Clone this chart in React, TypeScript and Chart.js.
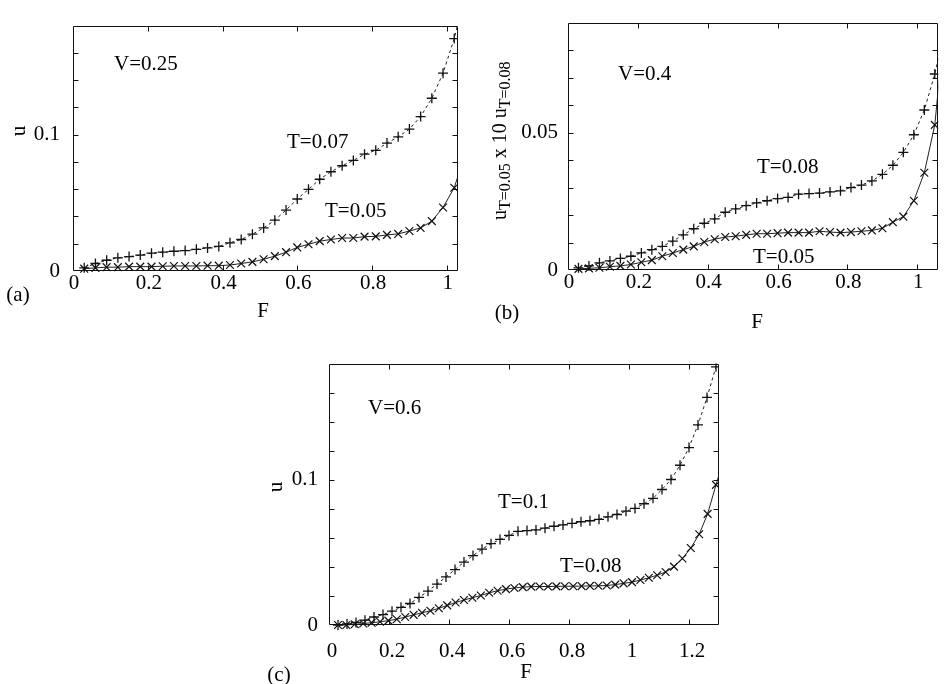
import React, { useEffect, useRef } from "react";
import { Chart, registerables } from "chart.js";

Chart.register(...registerables);

const SERIF = "'Liberation Serif', 'Times New Roman', Times, serif";

// ---------- Panel (a): V = 0.25 ----------
const fA = [0.03, 0.06, 0.09, 0.12, 0.15, 0.18, 0.21, 0.24, 0.27, 0.30, 0.33, 0.36, 0.39, 0.42, 0.45, 0.48, 0.51, 0.54, 0.57, 0.60, 0.63, 0.66, 0.69, 0.72, 0.75, 0.78, 0.81, 0.84, 0.87, 0.90, 0.93, 0.96, 0.99, 1.02, 1.05];
const uA_T007 = [0.0023, 0.0055, 0.0079, 0.0097, 0.0106, 0.0117, 0.0131, 0.0138, 0.0145, 0.0150, 0.0159, 0.0169, 0.0180, 0.0207, 0.0231, 0.0270, 0.0316, 0.0373, 0.0447, 0.0528, 0.0599, 0.0673, 0.0728, 0.0772, 0.0811, 0.0857, 0.0885, 0.0938, 0.0984, 0.1041, 0.1133, 0.1267, 0.1451, 0.1705, 0.205];
const uA_T005 = [0.0017, 0.0023, 0.0028, 0.0028, 0.0032, 0.0032, 0.0032, 0.0035, 0.0037, 0.0037, 0.0037, 0.0039, 0.0039, 0.0044, 0.0055, 0.0067, 0.0086, 0.0109, 0.0138, 0.0173, 0.0196, 0.0219, 0.0231, 0.0242, 0.0242, 0.0252, 0.0254, 0.0265, 0.0272, 0.0293, 0.0316, 0.0366, 0.0466, 0.0611, 0.087];

// ---------- Panel (b): V = 0.4 ----------
const fB = [0.03, 0.06, 0.09, 0.12, 0.15, 0.18, 0.21, 0.24, 0.27, 0.30, 0.33, 0.36, 0.39, 0.42, 0.45, 0.48, 0.51, 0.54, 0.57, 0.60, 0.63, 0.66, 0.69, 0.72, 0.75, 0.78, 0.81, 0.84, 0.87, 0.90, 0.93, 0.96, 0.99, 1.02, 1.05, 1.08];
const uB_T008 = [0.0008, 0.0015, 0.0026, 0.0033, 0.0042, 0.0050, 0.0062, 0.0074, 0.0086, 0.0105, 0.0128, 0.0150, 0.0170, 0.0186, 0.0210, 0.0222, 0.0234, 0.0244, 0.0252, 0.0260, 0.0264, 0.0276, 0.0278, 0.0280, 0.0284, 0.0288, 0.0300, 0.0309, 0.0324, 0.0348, 0.0381, 0.0428, 0.0492, 0.0582, 0.0713, 0.088];
const uB_T005x10 = [0.0004, 0.0006, 0.0008, 0.0012, 0.0015, 0.0020, 0.0028, 0.0036, 0.0050, 0.0062, 0.0074, 0.0086, 0.0102, 0.0112, 0.0120, 0.0123, 0.0128, 0.0132, 0.0132, 0.0134, 0.0136, 0.0136, 0.0136, 0.0141, 0.0138, 0.0136, 0.0138, 0.0141, 0.0144, 0.0152, 0.0174, 0.0194, 0.0252, 0.0354, 0.0528, 0.092];

// ---------- Panel (c): V = 0.6 ----------
const fC_T01 = [0.03, 0.06, 0.09, 0.12, 0.15, 0.18, 0.21, 0.24, 0.27, 0.30, 0.33, 0.36, 0.39, 0.42, 0.45, 0.48, 0.51, 0.54, 0.57, 0.60, 0.63, 0.66, 0.69, 0.72, 0.75, 0.78, 0.81, 0.84, 0.87, 0.90, 0.93, 0.96, 0.99, 1.02, 1.05, 1.08, 1.11, 1.14, 1.17, 1.20, 1.23, 1.26, 1.29, 1.32];
const uC_T01 = [0, 0.0007, 0.0018, 0.0033, 0.0055, 0.0072, 0.0095, 0.0122, 0.0148, 0.0190, 0.0233, 0.0282, 0.0331, 0.0382, 0.0433, 0.0478, 0.0522, 0.0560, 0.0589, 0.0617, 0.0645, 0.0650, 0.0655, 0.0667, 0.0680, 0.0689, 0.0700, 0.0711, 0.0718, 0.0728, 0.0745, 0.0761, 0.0784, 0.0803, 0.0835, 0.0872, 0.0933, 0.1002, 0.1100, 0.1222, 0.1378, 0.1567, 0.1778, 0.200];
const fC_T008 = [0.030, 0.058, 0.086, 0.114, 0.142, 0.170, 0.198, 0.226, 0.254, 0.282, 0.310, 0.338, 0.366, 0.394, 0.422, 0.450, 0.478, 0.506, 0.534, 0.562, 0.590, 0.618, 0.646, 0.674, 0.702, 0.730, 0.758, 0.786, 0.814, 0.842, 0.870, 0.898, 0.926, 0.954, 0.982, 1.010, 1.038, 1.066, 1.094, 1.122, 1.150, 1.178, 1.206, 1.234, 1.262, 1.290, 1.318];
const uC_T008 = [0, 0, 0.0005, 0.0010, 0.0016, 0.0022, 0.0030, 0.0040, 0.0055, 0.0070, 0.0084, 0.0098, 0.0115, 0.0135, 0.0155, 0.0172, 0.0188, 0.0203, 0.0222, 0.0236, 0.0247, 0.0255, 0.0261, 0.0264, 0.0265, 0.0265, 0.0266, 0.0267, 0.0267, 0.0268, 0.0269, 0.0270, 0.0272, 0.0278, 0.0287, 0.0295, 0.0310, 0.0325, 0.0343, 0.0365, 0.0402, 0.0458, 0.0530, 0.0625, 0.0765, 0.0965, 0.116];

// tick label values
const xTicksA = [0, 0.2, 0.4, 0.6, 0.8, 1];
const xTicksC = [0, 0.2, 0.4, 0.6, 0.8, 1, 1.2];
const yLabelsA = [0, 0.1];
const yLabelsB = [0, 0.05];
const yLabelsC = [0, 0.1];

type Seg = { t: string; sub?: boolean };
type TextSpec = {
  text?: string;
  segs?: Seg[];
  x: number;
  y: number;
  align?: CanvasTextAlign;
  base?: CanvasTextBaseline;
  size?: number;
  rot?: boolean;
};

type PanelCfg = {
  left: number;
  top: number;
  width: number;
  height: number;
  area: { l: number; t: number; r: number; b: number };
  xMax: number;
  yMax: number;
  yStep: number;
  xLabels: number[];
  yLabels: number[];
  xPad: number;
  yPad: number;
  xLabelOffset: number;
  upper: { f: number[]; u: number[] };
  lower: { f: number[]; u: number[] };
  texts: TextSpec[];
};

const near = (v: number, list: number[]) => list.some((w) => Math.abs(v - w) < 1e-6);

const framePlugin = {
  id: "frame",
  afterDraw(chart: any, _args: any, opts: any) {
    const { ctx, chartArea: a } = chart;
    const xs = chart.scales.x;
    const ys = chart.scales.y;
    ctx.save();
    ctx.strokeStyle = "#111";
    ctx.lineWidth = 1;
    const L = Math.round(a.left) + 0.5;
    const T = Math.round(a.top) + 0.5;
    const R = Math.round(a.right) - 0.5;
    const B = Math.round(a.bottom) - 0.5;
    ctx.beginPath();
    ctx.rect(L, T, R - L, B - T);
    const tl = 5;
    xs.ticks.forEach((t: any) => {
      const px = Math.round(xs.getPixelForValue(t.value)) + 0.5;
      if (px <= L + 1 || px >= R - 1) return;
      ctx.moveTo(px, B);
      ctx.lineTo(px, B - tl);
      ctx.moveTo(px, T);
      ctx.lineTo(px, T + tl);
    });
    ys.ticks.forEach((t: any) => {
      const py = Math.round(ys.getPixelForValue(t.value)) + 0.5;
      if (py <= T + 1 || py >= B - 1) return;
      ctx.moveTo(L, py);
      ctx.lineTo(L + tl, py);
      ctx.moveTo(R, py);
      ctx.lineTo(R - tl, py);
    });
    ctx.stroke();

    // texts
    ctx.fillStyle = "#000";
    const ox = opts.ox as number;
    const oy = opts.oy as number;
    (opts.texts as TextSpec[]).forEach((s) => {
      const size = s.size ?? 21;
      ctx.save();
      ctx.translate(s.x - ox, s.y - oy);
      if (s.rot) ctx.rotate(-Math.PI / 2);
      if (s.segs) {
        ctx.textAlign = "left";
        ctx.textBaseline = "alphabetic";
        let cx = 0;
        s.segs.forEach((g) => {
          const fs = g.sub ? 16 : size;
          ctx.font = `${fs}px ${SERIF}`;
          ctx.fillText(g.t, cx, g.sub ? 4 : 0);
          cx += ctx.measureText(g.t).width;
        });
      } else {
        ctx.font = `${size}px ${SERIF}`;
        ctx.textAlign = s.align ?? "left";
        ctx.textBaseline = s.base ?? "alphabetic";
        ctx.fillText(s.text ?? "", 0, 0);
      }
      ctx.restore();
    });
    ctx.restore();
  },
};

const panels: PanelCfg[] = [
  {
    left: 0,
    top: 0,
    width: 475,
    height: 330,
    area: { l: 73, t: 10, r: 458, b: 271 },
    xMax: 1.03,
    yMax: 0.18,
    yStep: 0.02,
    xLabels: xTicksA,
    yLabels: yLabelsA,
    xPad: 0,
    yPad: 13,
    xLabelOffset: 1,
    upper: { f: fA, u: uA_T007 },
    lower: { f: fA, u: uA_T005 },
    texts: [
      { text: "V=0.25", x: 114, y: 70 },
      { text: "T=0.07", x: 287, y: 148 },
      { text: "T=0.05", x: 325, y: 216.5 },
      { text: "u", x: 19, y: 131, rot: true, align: "center", base: "middle" },
      { text: "F", x: 263, y: 311, align: "center", base: "middle" },
      { text: "(a)", x: 18, y: 295, align: "center", base: "middle" },
    ],
  },
  {
    left: 480,
    top: 0,
    width: 465,
    height: 335,
    area: { l: 568, t: 20, r: 944, b: 270 },
    xMax: 1.06,
    yMax: 0.09,
    yStep: 0.01,
    xLabels: xTicksA,
    yLabels: yLabelsB,
    xPad: 0,
    yPad: 10,
    xLabelOffset: 1,
    upper: { f: fB, u: uB_T008 },
    lower: { f: fB, u: uB_T005x10 },
    texts: [
      { text: "V=0.4", x: 618, y: 80 },
      { text: "T=0.08", x: 757, y: 173 },
      { text: "T=0.05", x: 753, y: 263 },
      {
        segs: [
          { t: "u" },
          { t: "T=0.05", sub: true },
          { t: " x 10 u" },
          { t: "T=0.08", sub: true },
        ],
        x: 506,
        y: 220,
        rot: true,
        size: 20,
      },
      { text: "F", x: 757, y: 322, align: "center", base: "middle" },
      { text: "(b)", x: 507, y: 313, align: "center", base: "middle" },
    ],
  },
  {
    left: 250,
    top: 340,
    width: 480,
    height: 344,
    area: { l: 329, t: 354, r: 719, b: 625 },
    xMax: 1.3,
    yMax: 0.18,
    yStep: 0.02,
    xLabels: xTicksC,
    yLabels: yLabelsC,
    xPad: 14,
    yPad: 11,
    xLabelOffset: 3,
    upper: { f: fC_T01, u: uC_T01 },
    lower: { f: fC_T008, u: uC_T008 },
    texts: [
      { text: "V=0.6", x: 368, y: 414 },
      { text: "T=0.1", x: 498, y: 508 },
      { text: "T=0.08", x: 560, y: 571.5 },
      { text: "u", x: 276, y: 487, rot: true, align: "center", base: "middle" },
      { text: "F", x: 526, y: 672, align: "center", base: "middle" },
      { text: "(c)", x: 279, y: 675, align: "center", base: "middle" },
    ],
  },
];

function Panel({ cfg }: { cfg: PanelCfg }) {
  const ref = useRef<HTMLCanvasElement>(null);
  useEffect(() => {
    const canvas = ref.current;
    if (!canvas) return;
    const a = {
      l: cfg.area.l - cfg.left,
      t: cfg.area.t - cfg.top,
      r: cfg.area.r - cfg.left,
      b: cfg.area.b - cfg.top,
    };
    const tickFont = { family: SERIF, size: 21 };
    const chart = new Chart(canvas, {
      type: "line",
      data: {
        datasets: [
          {
            data: cfg.upper.f.map((f, i) => ({ x: f, y: cfg.upper.u[i] })),
            borderColor: "#222",
            borderWidth: 1,
            borderDash: [3, 3],
            pointStyle: "cross",
            pointRadius: 5,
            pointBorderWidth: 1.3,
            pointBorderColor: "#111",
            pointBackgroundColor: "transparent",
            fill: false,
            tension: 0,
            clip: { left: 6, top: 0, right: 0, bottom: 6 },
          },
          {
            data: cfg.lower.f.map((f, i) => ({ x: f, y: cfg.lower.u[i] })),
            borderColor: "#222",
            borderWidth: 1,
            pointStyle: "crossRot",
            pointRadius: 5.5,
            pointBorderWidth: 1.2,
            pointBorderColor: "#111",
            pointBackgroundColor: "transparent",
            fill: false,
            tension: 0,
            clip: { left: 6, top: 0, right: 0, bottom: 6 },
          },
        ] as any,
      },
      options: {
        responsive: false,
        animation: false,
        devicePixelRatio: 1,
        events: [],
        layout: {
          padding: { left: 0, top: a.t, right: cfg.width - a.r, bottom: 0 },
        },
        plugins: {
          legend: { display: false },
          tooltip: { enabled: false },
          frame: { texts: cfg.texts, ox: cfg.left, oy: cfg.top },
        } as any,
        scales: {
          x: {
            type: "linear",
            min: 0,
            max: cfg.xMax,
            grid: { display: false, drawTicks: false, tickLength: 0 },
            border: { display: false },
            ticks: {
              stepSize: 0.2,
              includeBounds: false,
              autoSkip: false,
              maxRotation: 0,
              padding: cfg.xPad,
              labelOffset: cfg.xLabelOffset,
              color: "#000",
              font: tickFont,
              callback: (v: any) => {
                const n = Number(v);
                return near(n, cfg.xLabels) ? String(Math.round(n * 10) / 10) : "";
              },
            },
            afterFit: (s: any) => {
              s.height = cfg.height - a.b;
            },
          },
          y: {
            type: "linear",
            min: 0,
            max: cfg.yMax,
            grid: { display: false, drawTicks: false, tickLength: 0 },
            border: { display: false },
            ticks: {
              stepSize: cfg.yStep,
              includeBounds: false,
              autoSkip: false,
              padding: cfg.yPad,
              color: "#000",
              font: tickFont,
              callback: (v: any) => {
                const n = Number(v);
                return near(n, cfg.yLabels) ? String(Math.round(n * 100) / 100) : "";
              },
            },
            afterFit: (s: any) => {
              s.width = a.l;
            },
          },
        },
      } as any,
      plugins: [framePlugin as any],
    });
    return () => chart.destroy();
  }, [cfg]);
  return (
    <canvas
      ref={ref}
      width={cfg.width}
      height={cfg.height}
      style={{ position: "absolute", left: cfg.left, top: cfg.top, width: cfg.width, height: cfg.height }}
    />
  );
}

export default function App() {
  return (
    <div
      style={{
        position: "absolute",
        left: 0,
        top: 0,
        width: 945,
        height: 684,
        background: "#fff",
        overflow: "hidden",
      }}
    >
      {panels.map((p, i) => (
        <Panel key={i} cfg={p} />
      ))}
    </div>
  );
}
